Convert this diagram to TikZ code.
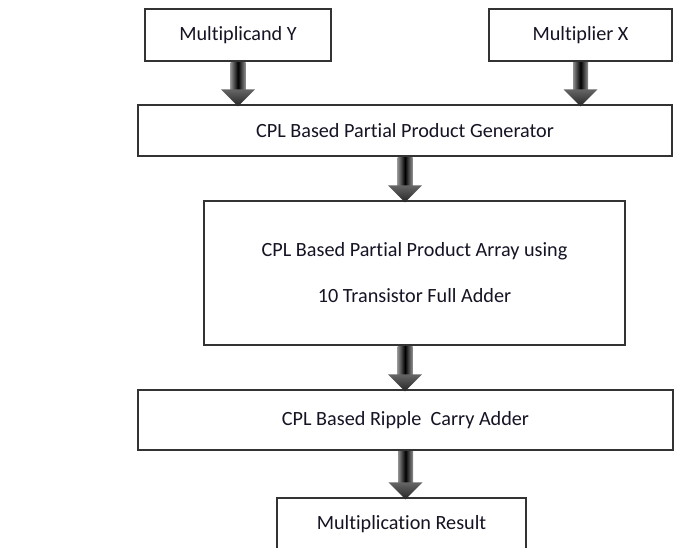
\documentclass[tikz,border=0pt]{standalone}
\usepackage{fontspec}
\setmainfont{Carlito}[Ligatures=CommonOff]
\usetikzlibrary{calc}
\definecolor{boxline}{HTML}{333333}
\definecolor{txtcol}{HTML}{141424}
\definecolor{shaftedge}{HTML}{909090}
\definecolor{headtop}{HTML}{666666}
\definecolor{headbot}{HTML}{262626}
\tikzset{
  blk/.style={draw=boxline, line width=1.4pt, rectangle, inner sep=0pt,
    font=\fontsize{20.2}{24}\selectfont, text=txtcol, align=center},
}
\newcommand\blockarrow[2]{%
  \shade[left color=shaftedge, right color=shaftedge, middle color=black]
    ($(#1)+(-7.5,0.7)$) rectangle ($(#2)+(7.5,-14)$);
  \shade[top color=headtop, bottom color=headbot]
    ($(#2)+(-17,-15)$) -- ($(#2)+(17,-15)$) -- ($(#2)+(0,2)$) -- cycle;
}
\begin{document}
\begin{tikzpicture}[x=1pt,y=-1pt]
\clip (0,0) rectangle (678,547);
\fill[white] (0,0) rectangle (678,547);
\node[blk, minimum width=186pt, minimum height=52pt] (b1) at (238,35) {Multiplicand Y};
\node[blk, minimum width=183pt, minimum height=52pt] (b2) at (580.5,35) {Multiplier X};
\node[blk, minimum width=534pt, minimum height=51pt] (b3) at (405,130.5) {CPL Based Partial Product Generator};
\node[blk, minimum width=421pt, minimum height=144pt,
      font=\fontsize{20.2}{46}\selectfont] (b4) at (414.5,273)
      {CPL Based Partial Product Array using\\10 Transistor Full Adder};
\node[blk, minimum width=535pt, minimum height=60pt] (b5) at (405.5,420) {CPL Based Ripple\ \ Carry Adder};
\node[blk, minimum width=249pt, minimum height=52pt] (b6) at (401.5,524) {Multiplication Result};
\coordinate (t1) at (b1.south |- b3.north);
\coordinate (t2) at (b2.south |- b3.north);
\coordinate (s3) at (b3.south);
\coordinate (t3) at (b3.south |- b4.north);
\coordinate (s4) at (b3.south |- b4.south);
\coordinate (t4) at (b3.south |- b5.north);
\coordinate (t5) at (b5.south |- b6.north);
\blockarrow{b1.south}{t1}
\blockarrow{b2.south}{t2}
\blockarrow{s3}{t3}
\blockarrow{s4}{t4}
\blockarrow{b5.south}{t5}
\end{tikzpicture}
\end{document}
